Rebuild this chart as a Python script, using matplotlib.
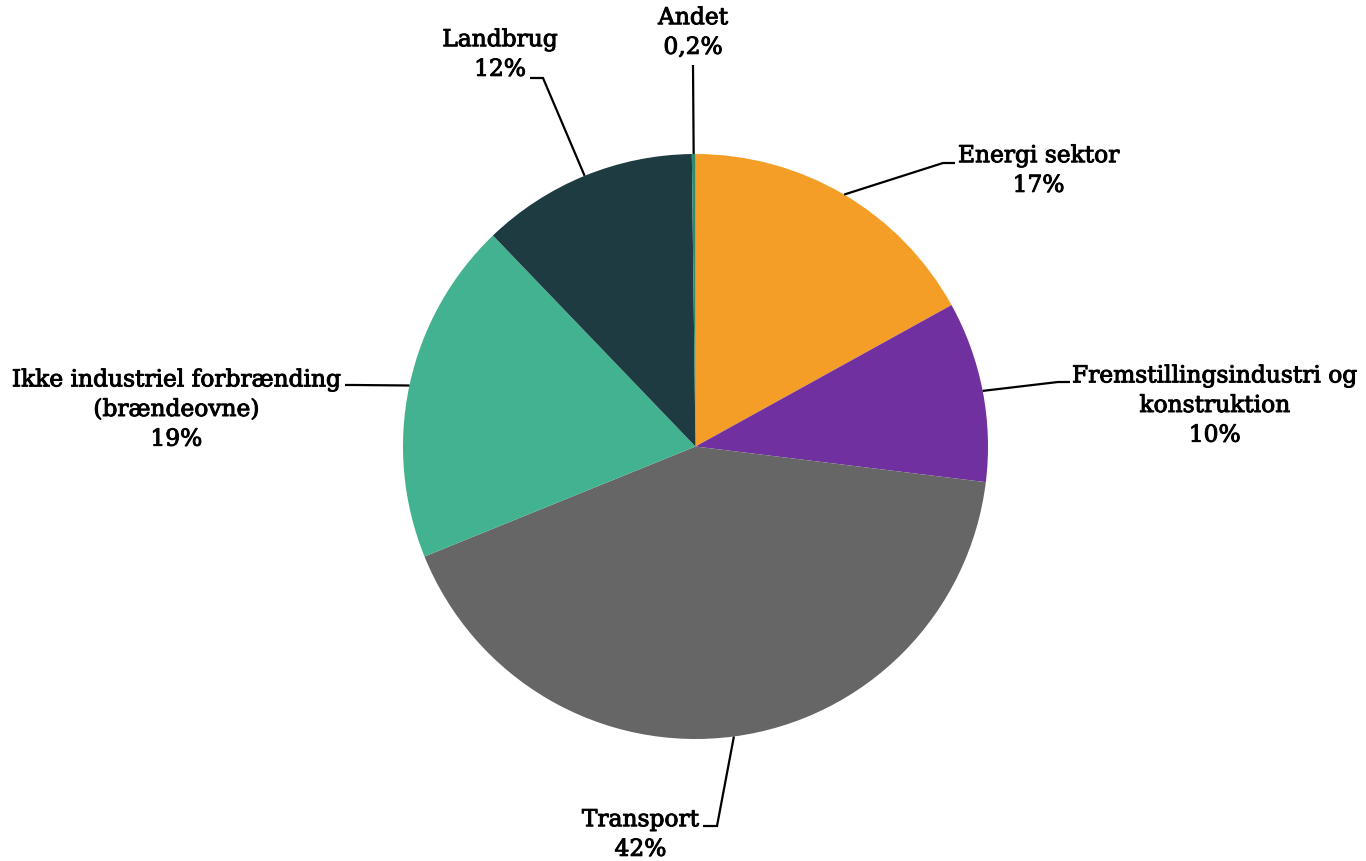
import numpy as np
import matplotlib.pyplot as plt
import matplotlib.patheffects as pe

plt.rcParams['font.family'] = ['DejaVu Serif']

# Udledning fordelt på sektorer (andel i %)
sectors = [
    "Energi sektor",
    "Fremstillingsindustri og\nkonstruktion",
    "Transport",
    "Ikke industriel forbrænding\n(brændeovne)",
    "Landbrug",
    "Andet",
]
shares = [17, 10, 42, 19, 12, 0.2]
share_labels = ["17%", "10%", "42%", "19%", "12%", "0,2%"]
colors = ["#F59E27", "#7030A0", "#666666", "#43B291", "#1E3B41", "#2E8B6E"]

W, H = 1366, 862
CX, CY, R = 695.5, 447.5, 292.5

# label layout in pixels (y downwards): elbow, stub end, text anchor, alignment
layout = [
    dict(elbow=(943, 164), stub=(955, 164), text=(958, 172), ha="left"),
    dict(elbow=(1058, 383), stub=(1070, 383), text=(1072, 407), ha="left"),
    dict(elbow=(717, 827), stub=(703, 827), text=(699, 836), ha="right"),
    dict(elbow=(355, 386), stub=(345, 386), text=(341, 411), ha="right"),
    dict(elbow=(543, 79), stub=(530, 79), text=(500, 56), ha="center"),
    dict(elbow=(693, 66), stub=(693, 66), text=(693, 34), ha="center"),
]


def px(x, y):
    return x, H - y


fig = plt.figure(figsize=(W / 100, H / 100), dpi=100)
ax = fig.add_axes([0, 0, 1, 1])

wedges, _ = ax.pie(shares, colors=colors, startangle=90, counterclock=False,
                   center=px(CX, CY), radius=R, frame=True,
                   wedgeprops=dict(linewidth=0))
ax.set_xlim(0, W)
ax.set_ylim(0, H)
ax.set_aspect("equal")
ax.axis("off")

for w, name, lab, lay in zip(wedges, sectors, share_labels, layout):
    mid = np.deg2rad((w.theta1 + w.theta2) / 2)
    edge = (CX + R * np.cos(mid), H - CY + R * np.sin(mid))
    ex, ey = px(*lay["elbow"])
    sx, sy = px(*lay["stub"])
    ax.plot([edge[0], ex, sx], [edge[1], ey, sy], color="black", lw=1.6,
            solid_capstyle="butt", solid_joinstyle="miter")
    tx, ty = px(*lay["text"])
    ax.text(tx, ty, name + "\n" + lab, ha=lay["ha"], va="center",
            multialignment="center", fontsize=16.8, color="black",
            linespacing=1.45,
            path_effects=[pe.withStroke(linewidth=0.7, foreground="black")])

fig.savefig("out.png", dpi=100)
